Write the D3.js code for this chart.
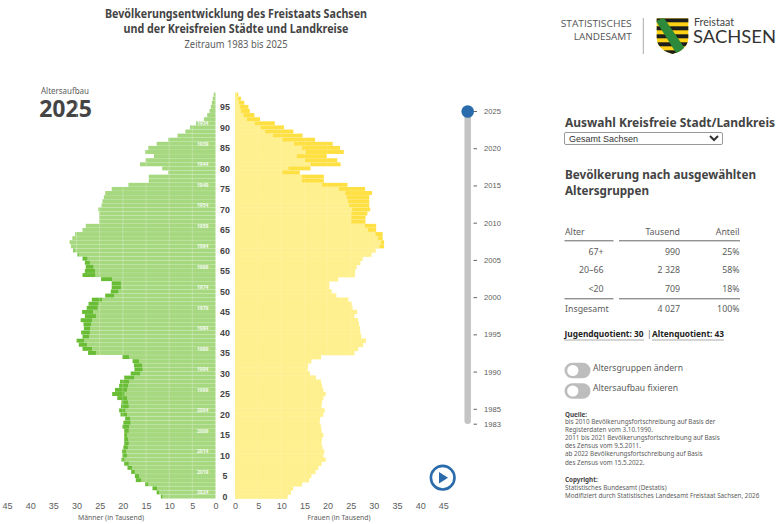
<!DOCTYPE html>
<html lang="de">
<head>
<meta charset="utf-8">
<script src="https://cdn.jsdelivr.net/npm/d3@7"></script>
<style>
  html, body { margin: 0; padding: 0; background: #fff; }
  #wrap { position: relative; width: 780px; height: 524px; overflow: hidden; }
  svg { position: absolute; left: 0; top: 0; font-family: "Noto Sans", sans-serif; }
  select { position: absolute; left: 564px; top: 132px; width: 159px; height: 13px; padding: 0;
    font: 9px "Liberation Sans", sans-serif; color: #333; background: #fff;
    border: 1px solid #999; border-radius: 2px; }
  .axis path { display: none; }
  .axis line { stroke: #666; }
</style>
</head>
<body>
<div id="wrap"><select><option>Gesamt Sachsen</option></select></div>
<script>
const male = [11.8,12.7,13.6,15.2,17.2,17.4,18.2,19,19.7,20.3,
  20.1,20.2,19.9,19.7,19.7,19.7,19.7,20.1,19.9,19.5,
  20.5,20.8,20.4,20.3,21.2,22.3,21.7,20.8,20.6,19.7,
  18.3,17.5,17.6,17.9,20.1,27.5,28.7,29.5,30,28.7,
  29,28.4,28.5,29.1,28.2,28.8,27.8,27.4,26.7,23.8,
  22.6,22.4,22.4,24.7,28.7,28.2,28,28.2,28.7,29.8,
  30.7,31.2,31.5,30.9,30.3,28.7,28,25.1,25.1,25.1,
  25.3,24.6,24.4,24.1,23.8,22.4,18.8,14.4,14.4,10.2,
  11.5,16.3,15.1,13.3,15.2,14.5,12.7,10.2,8.2,6.5,
  5.5,4.2,2.5,1.8,1.3,1,0.8,0.6,0.4];
const female = [11.4,12.1,12.6,14.5,16,16.5,17.4,18,18.7,19.6,
  19.1,19.3,18.9,18.7,18.8,19.1,18.7,18.6,18.3,18.4,
  19.1,19.4,18.7,18.8,19.1,19.6,19.1,18.8,18.6,17.5,
  16.2,15.7,15.8,16.5,18.6,25.8,26.6,27.7,28.3,27.3,
  27.1,27,26.8,26.6,25.8,26.4,25.4,25.2,24.5,21.9,
  20.9,20.4,20.4,22.3,25.9,26,26.3,27.1,27.6,29.5,
  30.4,32.2,32.2,31.9,31.9,30.5,30.5,28.2,28.2,28.6,
  29.2,29,29,29,29.6,28.1,24.3,19.2,19.2,14,
  16.3,22.8,22.1,19.8,23.5,22.7,21.1,17.3,14.6,12.6,
  10.6,8.6,5.4,4.2,3.2,2.9,2,1.3,0.7];
const ages = d3.range(male.length);
const valueTicks = [0,5,10,15,20,25,30,35,40,45];
const ageTicks = d3.range(0,96,5);
const birthYears = [1934,1939,1944,1949,1954,1959,1964,1969,1974,1979,1984,1989,1994,1999,2004,2009,2014,2019,2024];
const yearTicks = [1983,1985,1990,1995,2000,2005,2010,2015,2020,2025];
const tableRows = [["67+","990","25%"],["20–66","2 328","58%"],["<20","709","18%"]];
const tableTotal = ["Insgesamt","4 027","100%"];
const sourceLines = ["bis 2010 Bevölkerungsfortschreibung auf Basis der","Registerdaten vom 3.10.1990.",
  "2011 bis 2021 Bevölkerungsfortschreibung auf Basis","des Zensus vom 9.5.2011.",
  "ab 2022 Bevölkerungsfortschreibung auf Basis","des Zensus vom 15.5.2022."];
const copyLines = ["Statistisches Bundesamt (Destatis)","Modifiziert durch Statistisches Landesamt Freistaat Sachsen, 2026"];

const ink = "#444", grey = "#5c5c5c", blue = "#2a6cab";
const svg = d3.select("#wrap").insert("svg","select").attr("width",780).attr("height",524);

const xM = d3.scaleLinear().domain([0,45]).range([215.5,7]);
const xF = d3.scaleLinear().domain([0,45]).range([235,443.3]);
const y = d3.scaleBand().domain(ages).range([498.5,92.6]).paddingInner(0.04);

function text(g, x, yy, s, size, opt) {
  opt = opt || {};
  const t = g.append("text").attr("x",x).attr("y",yy).text(s)
    .attr("font-size",size)
    .attr("font-weight",opt.weight || 400)
    .attr("text-anchor",opt.anchor || "start")
    .attr("fill",opt.fill || ink);
  // the original face is narrower than the installed ones
  if (opt.len) t.attr("textLength",opt.len).attr("lengthAdjust","spacingAndGlyphs");
  return t;
}

// heading
text(svg,236,18,"Bevölkerungsentwicklung des Freistaats Sachsen",11.8,{weight:700,anchor:"middle",len:262});
text(svg,236,33,"und der Kreisfreien Städte und Landkreise",11.8,{weight:700,anchor:"middle",len:225});
text(svg,236,48,"Zeitraum 1983 bis 2025",10,{anchor:"middle",fill:grey,len:103});
text(svg,65,93.5,"Altersaufbau",8.6,{anchor:"middle",fill:grey,len:48});
text(svg,65.5,117,"2025",23,{weight:700,anchor:"middle"});

// pyramid: common part light, surplus of one sex darker
const bars = svg.append("g");
bars.selectAll(".m").data(ages).join("rect").attr("class","m")
  .attr("x",a => xM(Math.min(male[a],female[a])))
  .attr("y",a => y(a)).attr("height",y.bandwidth())
  .attr("width",a => xM(0)-xM(Math.min(male[a],female[a])))
  .attr("fill","#a6d87f");
bars.selectAll(".f").data(ages).join("rect").attr("class","f")
  .attr("x",xF(0))
  .attr("y",a => y(a)-0.2).attr("height",y.step()+0.4)
  .attr("width",a => xF(Math.min(male[a],female[a]))-xF(0))
  .attr("fill","#fff08f");
bars.selectAll(".ms").data(ages.filter(a => male[a]>female[a])).join("rect").attr("class","ms")
  .attr("x",a => xM(male[a]))
  .attr("y",a => y(a)).attr("height",y.bandwidth())
  .attr("width",a => xM(female[a])-xM(male[a]))
  .attr("fill","#69bd35");
bars.selectAll(".fs").data(ages.filter(a => female[a]>male[a])).join("rect").attr("class","fs")
  .attr("x",a => xF(male[a]))
  .attr("y",a => y(a)).attr("height",y.bandwidth())
  .attr("width",a => xF(female[a])-xF(male[a]))
  .attr("fill","#ffe043");

// faint grid over the bars
svg.append("g").selectAll("line").data(valueTicks.slice(1)).join("line")
  .attr("x1",d => xM(d)).attr("x2",d => xM(d)).attr("y1",92.6).attr("y2",498.5)
  .attr("stroke","#fff").attr("stroke-opacity",0.3).attr("stroke-width",0.8);
svg.append("g").selectAll("line").data(valueTicks.slice(1)).join("line")
  .attr("x1",d => xF(d)).attr("x2",d => xF(d)).attr("y1",92.6).attr("y2",498.5)
  .attr("stroke","#fff").attr("stroke-opacity",0.12).attr("stroke-width",0.8);

// birth years in the bars
svg.append("g").selectAll("text").data(birthYears).join("text")
  .attr("x",202.7).attr("y",d => y(2025-d)+y.bandwidth()/2+1.8)
  .attr("text-anchor","middle").attr("font-size",5).attr("font-weight",700)
  .attr("fill","#fff").attr("fill-opacity",0.9).text(d => d);

// axes
function bottomAxis(scale) {
  const g = svg.append("g").attr("class","axis").attr("transform","translate(0,502.5)")
    .call(d3.axisBottom(scale).tickValues(valueTicks).tickSize(0).tickPadding(0).tickFormat(d3.format("d")));
  g.selectAll("text").attr("font-size",9).attr("font-family","inherit").attr("fill",grey).attr("dy","0.71em");
}
bottomAxis(xM);
bottomAxis(xF);
const ageAxis = svg.append("g").attr("class","axis").attr("transform","translate(225,0)")
  .call(d3.axisRight(d3.scalePoint().domain(ageTicks).range([y(0)+y.bandwidth()/2,y(95)+y.bandwidth()/2]))
    .tickSize(0).tickPadding(0));
ageAxis.selectAll("text").attr("text-anchor","middle").attr("font-size",8.8).attr("font-weight",700)
  .attr("font-family","inherit").attr("fill",ink);
text(svg,111,520,"Männer (in Tausend)",7.2,{anchor:"middle",fill:grey,len:66});
text(svg,339,520,"Frauen (in Tausend)",7.2,{anchor:"middle",fill:grey,len:63});

// year slider
const yearY = d3.scaleLinear().domain([1983,2025]).range([423.7,111]);
svg.append("line").attr("x1",467.7).attr("x2",467.7).attr("y1",yearY(2025)).attr("y2",yearY(1983)-3)
  .attr("stroke","#c4c4c4").attr("stroke-width",6.5).attr("stroke-linecap","round");
const yearAxis = svg.append("g").attr("class","axis").attr("transform","translate(477,0)")
  .call(d3.axisRight(yearY).tickValues(yearTicks).tickSize(0).tickPadding(7).tickFormat(d3.format("d")));
yearAxis.selectAll("text").attr("font-size",7.6).attr("font-family","inherit").attr("fill",grey);
yearAxis.selectAll(".tick line").attr("x1",-3.5).attr("x2",0).attr("stroke","#777");
svg.append("circle").attr("cx",467.7).attr("cy",yearY(2025)+0.5).attr("r",6.3).attr("fill",blue);

// play button
svg.append("circle").attr("cx",442.7).attr("cy",477.7).attr("r",11.8)
  .attr("fill","#fff").attr("stroke",blue).attr("stroke-width",2.6);
svg.append("path").attr("d",d3.line()([[439,472],[439,483.5],[448,477.7]])+"Z").attr("fill",blue);

// right column
text(svg,565,127,"Auswahl Kreisfreie Stadt/Landkreis",12.2,{weight:700,len:210});
text(svg,565,179,"Bevölkerung nach ausgewählten",12.2,{weight:700,len:191});
text(svg,565,195,"Altersgruppen",12.2,{weight:700,len:84});

const colX = [603.5,680,739.5];
const rowY = d3.scalePoint().domain(tableRows.map(r => r[0])).range([254.5,292]);
text(svg,565,235,"Alter",8.8,{fill:grey});
text(svg,colX[1],235,"Tausend",8.8,{anchor:"end",fill:grey});
text(svg,colX[2],235,"Anteil",8.8,{anchor:"end",fill:grey});
tableRows.forEach(r => r.forEach((s,i) => text(svg,colX[i],rowY(r[0]),s,8.8,{anchor:"end",fill:grey})));
text(svg,565,311.5,tableTotal[0],8.8,{fill:grey});
text(svg,colX[1],311.5,tableTotal[1],8.8,{anchor:"end",fill:grey});
text(svg,colX[2],311.5,tableTotal[2],8.8,{anchor:"end",fill:grey});
[240.8,298.8].forEach(yy => {
  [[564.5,613.5],[619,740]].forEach(p => svg.append("line").attr("x1",p[0]).attr("x2",p[1]).attr("y1",yy).attr("y2",yy)
    .attr("stroke","#666").attr("stroke-width",1));
});
text(svg,564.5,336.5,"Jugendquotient: 30",8.4,{weight:700,fill:"#222",len:79});
text(svg,647,336.5,"|",8.4,{fill:grey});
text(svg,652,336.5,"Altenquotient: 43",8.4,{weight:700,fill:"#222",len:72});
[[564.5,644],[652,724]].forEach(p => svg.append("line").attr("x1",p[0]).attr("x2",p[1]).attr("y1",340).attr("y2",340)
  .attr("stroke","#aaa").attr("stroke-width",1));

// toggles
[["Altersgruppen ändern",370.5,90],["Altersaufbau fixieren",391,85]].forEach(t => {
  svg.append("rect").attr("x",564.5).attr("y",t[1]-7.8).attr("width",26).attr("height",15.6).attr("rx",7.8).attr("fill","#bdbdbd");
  svg.append("circle").attr("cx",572.8).attr("cy",t[1]).attr("r",5.6).attr("fill","#fff");
  text(svg,593,t[1]+0.3,t[0],8.8,{fill:grey,len:t[2]});
});

// source notes
text(svg,565,416.5,"Quelle:",6.3,{weight:700});
sourceLines.forEach((s,i) => text(svg,565,424+i*8.1,s,6.3,{fill:grey}));
text(svg,565,482,"Copyright:",6.3,{weight:700});
copyLines.forEach((s,i) => text(svg,565,489.5+i*8,s,6.3,{fill:grey}));

// logo
text(svg,631.7,26.5,"STATISTISCHES",8.8,{anchor:"end",fill:"#555",len:71}).attr("font-family","Open Sans");
text(svg,631.7,40,"LANDESAMT",8.8,{anchor:"end",fill:"#555",len:58}).attr("font-family","Open Sans");
svg.append("line").attr("x1",643.3).attr("x2",643.3).attr("y1",18).attr("y2",54).attr("stroke","#aaa");
const shield = "M656.7,18.3H688.3V38C688.3,47 680,52 672.5,54C665,52 656.7,47 656.7,38Z";
svg.append("clipPath").attr("id","shield").append("path").attr("d",shield);
const arms = svg.append("g").attr("clip-path","url(#shield)");
arms.append("rect").attr("x",656).attr("y",18).attr("width",33).attr("height",37).attr("fill","#fcd116");
d3.range(5).forEach(i => arms.append("rect").attr("x",656).attr("y",18.3+i*8).attr("width",33).attr("height",4).attr("fill","#1d1d1b"));
arms.append("path").attr("d","M656,21L664,18L686,50L678,56Z").attr("fill","#2c8a3a");
text(svg,694,26,"Freistaat",10.5,{fill:"#444",len:40}).attr("font-family","Lato");
text(svg,693,42.7,"SACHSEN",17.5,{fill:"#333",len:83}).attr("font-family","Lato");
</script>
</body>
</html>
